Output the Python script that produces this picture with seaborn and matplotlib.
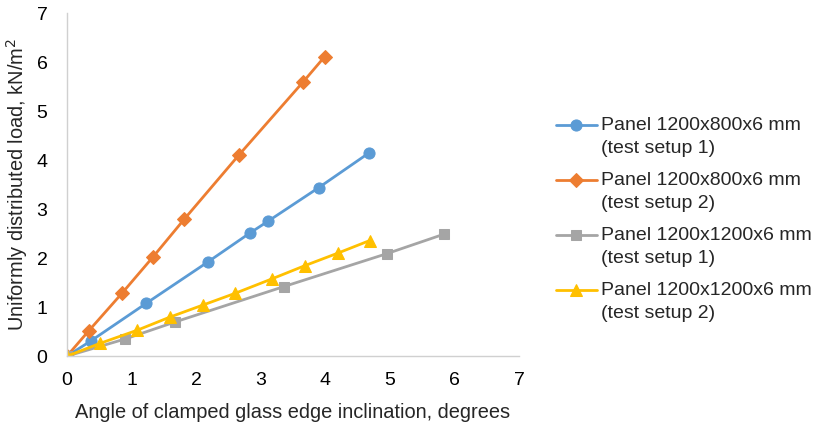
import pandas as pd
import numpy as np
import matplotlib
matplotlib.use('Agg')
import matplotlib.pyplot as plt
from matplotlib.lines import Line2D
import seaborn as sns

sns.set_style('white')
plt.rcParams['font.family'] = ['Liberation Sans', 'DejaVu Sans']

# data
x_800_1 = [0, 0.37, 1.23, 2.18, 2.83, 3.11, 3.90, 4.68]
y_800_1 = [0, 0.31, 1.08, 1.92, 2.51, 2.75, 3.44, 4.15]

x_800_2 = [0, 0.34, 0.85, 1.33, 1.82, 2.66, 3.66, 3.99]
y_800_2 = [0, 0.52, 1.28, 2.02, 2.80, 4.10, 5.60, 6.11]

x_1200_1 = [0, 0.90, 1.68, 3.36, 4.95, 5.84]
y_1200_1 = [0, 0.35, 0.70, 1.42, 2.09, 2.49]

x_1200_2 = [0, 0.51, 1.09, 1.60, 2.10, 2.60, 3.18, 3.69, 4.19, 4.69]
y_1200_2 = [0, 0.26, 0.53, 0.80, 1.04, 1.28, 1.58, 1.85, 2.10, 2.36]

labels = ['Panel 1200x800x6 mm\n(test setup 1)',
          'Panel 1200x800x6 mm\n(test setup 2)',
          'Panel 1200x1200x6 mm\n(test setup 1)',
          'Panel 1200x1200x6 mm\n(test setup 2)']
colors = ['#5B9BD5', '#ED7D31', '#A5A5A5', '#FFC000']
markers = ['o', 'D', 's', '^']
msizes = [8, 7, 7.5, 8.5]

series = [(x_800_1, y_800_1), (x_800_2, y_800_2),
          (x_1200_1, y_1200_1), (x_1200_2, y_1200_2)]

fig = plt.figure(figsize=(8.16, 4.24), dpi=100)
ax = fig.add_axes([0.082, 0.160, 0.554, 0.809])

for (xs, ys), lab, c, m, ms in zip(series, labels, colors, markers, msizes):
    sns.lineplot(x=xs, y=ys, ax=ax, label=lab, color=c, marker=m,
                 markersize=ms, markeredgecolor=c, linewidth=2, sort=False)

ax.set_xlim(0, 7)
ax.set_ylim(0, 7)
ax.set_xticks(range(0, 8))
ax.set_yticks(range(0, 8))
ax.spines['top'].set_visible(False)
ax.spines['right'].set_visible(False)
for s in ['left', 'bottom']:
    ax.spines[s].set_color('#d0d0d0')
    ax.spines[s].set_linewidth(1)
ax.tick_params(axis='both', direction='inout', length=9, width=1,
               color='#d0d0d0', labelsize=14, labelcolor='#000000')
ax.tick_params(axis='y', pad=9.5)
ax.tick_params(axis='x', pad=7)
ax.set_xlabel('Angle of clamped glass edge inclination, degrees', fontsize=14.4, labelpad=10)
ax.set_ylabel('Uniformly distributed load, kN/m$^2$', fontsize=14.4, labelpad=4.5)

# Excel puts the key level with the first text line: draw texts and keys
# as two legends, the keys one a little higher
handles, _ = ax.get_legend_handles_labels()
leg_kw = dict(loc='center left', frameon=False, fontsize=14, handlelength=2.1,
              labelspacing=0.78, handletextpad=0.2)

blank = [Line2D([], [], linestyle='none') for _ in labels]
leg_text = ax.legend(blank, labels, bbox_to_anchor=(1.043, 0.398), **leg_kw)
for t in leg_text.get_texts():
    t.set_linespacing(1.45)
ax.add_artist(leg_text)

leg_keys = ax.legend(handles, [' \n '] * len(handles),
                     bbox_to_anchor=(1.043, 0.433), **leg_kw)
for t in leg_keys.get_texts():
    t.set_linespacing(1.45)

fig.savefig('out.png', dpi=100)
